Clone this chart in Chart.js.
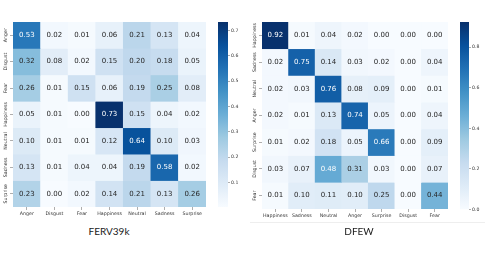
<!DOCTYPE html>
<html><head><meta charset="utf-8">
<script src="https://cdn.jsdelivr.net/npm/chart.js@4.4.0/dist/chart.umd.min.js"></script>
<style>
html,body{margin:0;padding:0;background:#fff;width:485px;height:258px;overflow:hidden;position:relative;}
canvas{position:absolute;top:0;}
.title{position:absolute;top:225px;line-height:13px;font-family:"Liberation Sans Narrow","Lato",sans-serif;font-size:10px;color:#1a1a1a;transform:translateX(-50%);white-space:nowrap;}
.rule{position:absolute;background:#eeeeee;}
</style></head><body>
<canvas id="h1" width="210" height="224" style="left:0px"></canvas>
<canvas id="cb1" width="30" height="224" style="left:218px"></canvas>
<canvas id="h2" width="202" height="226" style="left:250px"></canvas>
<canvas id="cb2" width="25" height="224" style="left:460px"></canvas>
<div class="title" style="left:109px">FERV39k</div>
<div class="title" style="left:359px">DFEW</div>
<div class="rule" style="left:250px;top:222px;width:235px;height:1px"></div>
<script>
// ---- data ----
const fervLabels = ['Anger','Disgust','Fear','Happiness','Neutral','Sadness','Surprise'];
const fervAnger     = [0.53,0.02,0.01,0.06,0.21,0.13,0.04];
const fervDisgust   = [0.32,0.08,0.02,0.15,0.20,0.18,0.05];
const fervFear      = [0.26,0.01,0.15,0.06,0.19,0.25,0.08];
const fervHappiness = [0.05,0.01,0.00,0.73,0.15,0.04,0.02];
const fervNeutral   = [0.10,0.01,0.01,0.12,0.64,0.10,0.03];
const fervSadness   = [0.13,0.01,0.04,0.04,0.19,0.58,0.02];
const fervSurprise  = [0.23,0.00,0.02,0.14,0.21,0.13,0.26];
const fervRange = [0.003, 0.733];
const fervBarTicks = [0.1,0.2,0.3,0.4,0.5,0.6,0.7];

const dfewLabels = ['Happiness','Sadness','Neutral','Anger','Surprise','Disgust','Fear'];
const dfewHappiness = [0.92,0.01,0.04,0.02,0.00,0.00,0.00];
const dfewSadness   = [0.02,0.75,0.14,0.03,0.02,0.00,0.04];
const dfewNeutral   = [0.02,0.03,0.76,0.08,0.09,0.00,0.01];
const dfewAnger     = [0.02,0.01,0.13,0.74,0.05,0.00,0.04];
const dfewSurprise  = [0.01,0.02,0.18,0.05,0.66,0.00,0.09];
const dfewDisgust   = [0.03,0.07,0.48,0.31,0.03,0.00,0.07];
const dfewFear      = [0.01,0.10,0.11,0.10,0.25,0.00,0.44];
const dfewRange = [0.0, 0.924];
const dfewBarTicks = [0.0,0.2,0.4,0.6,0.8];

const fervMatrix = [fervAnger,fervDisgust,fervFear,fervHappiness,fervNeutral,fervSadness,fervSurprise];
const dfewMatrix = [dfewHappiness,dfewSadness,dfewNeutral,dfewAnger,dfewSurprise,dfewDisgust,dfewFear];

// ---- Blues colormap ----
const BLUES = [[247,251,255],[222,235,247],[198,219,239],[158,202,225],[107,174,214],[66,146,198],[33,113,181],[8,81,156],[8,48,107]];
function blues(t){
  t = Math.max(0, Math.min(1, t));
  const p = t * (BLUES.length - 1);
  const i = Math.min(Math.floor(p), BLUES.length - 2);
  const f = p - i;
  const a = BLUES[i], b = BLUES[i+1];
  const c = a.map((v,k)=>Math.round(v + (b[k]-v)*f));
  return `rgb(${c[0]},${c[1]},${c[2]})`;
}

const TICK_FONT = {family:'DejaVu Sans', size:4.75};
const TICK_COLOR = '#333';
const GRID_TICK = '#777';

const annotate = {
  id:'annotate',
  afterDatasetsDraw(chart, args, opts){
    const ctx = chart.ctx;
    const m = opts.matrix, lo = opts.range[0], hi = opts.range[1];
    ctx.save();
    ctx.font = '7px "DejaVu Sans"';
    ctx.textAlign = 'center';
    ctx.textBaseline = 'middle';
    chart.data.datasets.forEach((ds, r) => {
      chart.getDatasetMeta(r).data.forEach((el, c) => {
        const v = m[r][c];
        const t = (v - lo) / (hi - lo);
        ctx.fillStyle = t > 0.5 ? '#ffffff' : '#262626';
        ctx.fillText(v.toFixed(2), el.x, (el.y + el.base) / 2);
      });
    });
    // rotated row labels
    const ys = chart.scales.y;
    ctx.font = '4.75px "DejaVu Sans"';
    ctx.fillStyle = TICK_COLOR;
    ctx.textBaseline = 'bottom';
    opts.rows.forEach((lab, i) => {
      const y = ys.getPixelForValue(i + 0.5);
      ctx.save();
      ctx.translate(ys.right - 4.5, y);
      ctx.rotate(-Math.PI/2);
      ctx.fillText(lab, 0, 0);
      ctx.restore();
    });
    ctx.restore();
  }
};

function heatmap(id, rows, matrix, range, yWidth, padBottom){
  const datasets = rows.map((r, i) => ({
    label: r,
    data: rows.map(() => [i, i + 1]),
    backgroundColor: matrix[i].map(v => blues((v - range[0]) / (range[1] - range[0]))),
    borderWidth: 0,
    barPercentage: 1,
    categoryPercentage: 1,
    grouped: false
  }));
  return new Chart(document.getElementById(id), {
    type: 'bar',
    data: { labels: rows, datasets },
    options: {
      responsive: false, animation: false,
      layout: { padding: { top: 22, right: 4, bottom: padBottom, left: 0 } },
      plugins: { legend: {display:false}, tooltip: {enabled:false}, annotate: { matrix, range, rows } },
      scales: {
        x: {
          type: 'category', offset: true,
          grid: { display: true, drawOnChartArea: false, drawTicks: true, tickLength: 3, color: GRID_TICK, lineWidth: 0.6, offset: false },
          border: { display: false },
          ticks: { font: TICK_FONT, color: TICK_COLOR, padding: 1, maxRotation: 0, minRotation: 0, autoSkip: false },
          afterFit: s => { s.height = 14; }
        },
        y: {
          type: 'linear', min: 0, max: rows.length, reverse: true,
          afterBuildTicks: s => { s.ticks = rows.map((_, i) => ({ value: i + 0.5 })); },
          grid: { display: true, drawOnChartArea: false, drawTicks: true, tickLength: 3, color: GRID_TICK, lineWidth: 0.6 },
          border: { display: false },
          ticks: { display: false },
          afterFit: s => { s.width = yWidth; }
        }
      }
    },
    plugins: [annotate]
  });
}

function colorbar(id, range, tickVals, yWidth, padBottom){
  return new Chart(document.getElementById(id), {
    type: 'bar',
    data: { labels: [''], datasets: [{
      data: [[range[0], range[1]]],
      barPercentage: 1, categoryPercentage: 1, borderWidth: 0,
      backgroundColor: (c) => {
        const a = c.chart.chartArea;
        if (!a) return '#ccc';
        const g = c.chart.ctx.createLinearGradient(0, a.bottom, 0, a.top);
        for (let k = 0; k <= 32; k++) g.addColorStop(k/32, blues(k/32));
        return g;
      }
    }]},
    options: {
      responsive: false, animation: false,
      layout: { padding: { top: 22, right: 0, bottom: padBottom, left: 0 } },
      plugins: { legend: {display:false}, tooltip: {enabled:false} },
      scales: {
        x: { display: false },
        y: {
          type: 'linear', position: 'right', min: range[0], max: range[1],
          afterBuildTicks: s => { s.ticks = tickVals.map(v => ({ value: v })); },
          grid: { display: true, drawOnChartArea: false, drawTicks: true, tickLength: 2, color: GRID_TICK, lineWidth: 0.6 },
          border: { display: false },
          ticks: { font: {family:'DejaVu Sans', size:4.6}, color: TICK_COLOR, padding: 1, callback: v => v.toFixed(1) },
          afterFit: s => { s.width = yWidth; }
        }
      }
    }
  });
}

heatmap('h1', fervLabels, fervMatrix, fervRange, 13, 3);
colorbar('cb1', fervRange, fervBarTicks, 20, 17);
heatmap('h2', dfewLabels, dfewMatrix, dfewRange, 12, 3);
colorbar('cb2', dfewRange, dfewBarTicks, 16, 14.5);
</script>
</body></html>
